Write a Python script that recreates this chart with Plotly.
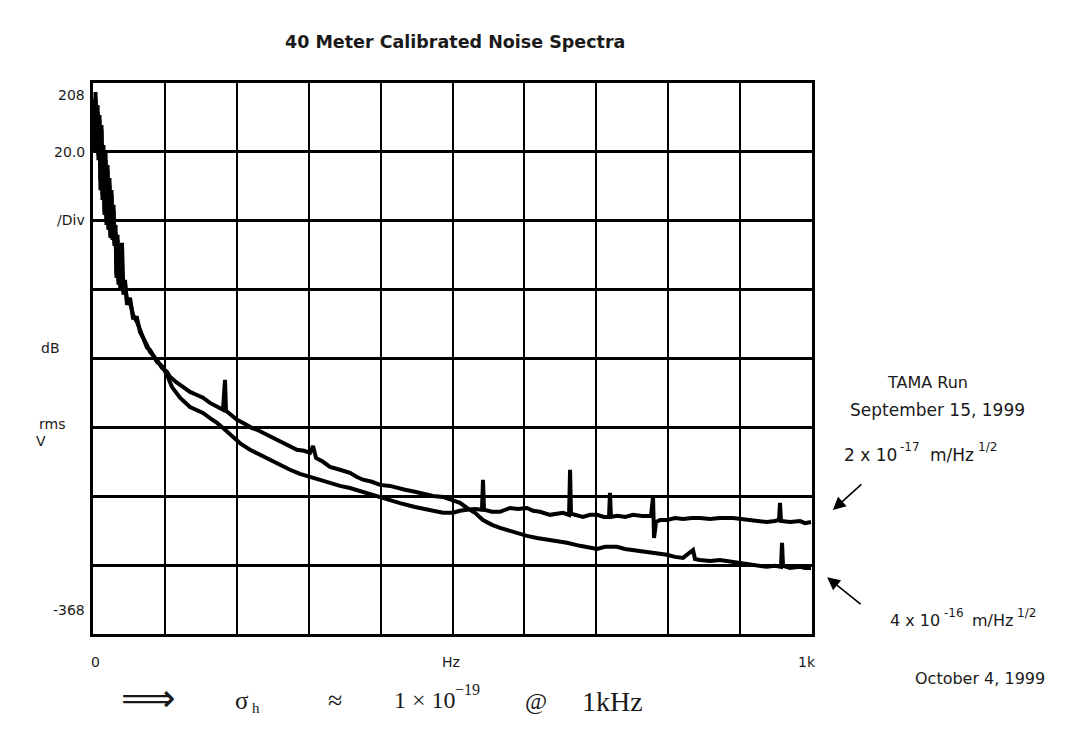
import plotly.graph_objects as go

# ---- data (frequency in Hz, level in dB; 20 dB per division, top of screen = 0 dB) ----
# Curve measured October 4, 1999 (ends at the lower level)
oct_hz = [0.7, 2.1, 3.5, 4.9, 6.3, 7.6, 9.0, 10.4, 11.8, 13.2, 14.6, 16.0, 17.4, 18.8, 20.2, 21.6,
          22.9, 24.3, 25.7, 27.1, 28.5, 29.9, 31.3, 32.7, 34.1, 35.5, 36.9, 38.2, 40.3, 42.4, 44.5,
          47.3, 51.5, 55.6, 61.2, 65.4, 75.1, 79.3, 89.0, 96.0, 102.9,
          107.1, 115.4, 125.2, 134.9, 144.6, 153.0, 162.7, 172.5, 180.8, 183.6, 185.0, 190.5, 200.3,
          211.4, 221.1, 228.1, 239.2, 247.6, 255.9, 267.0, 275.4, 283.7, 293.5, 301.8, 306.0, 310.2,
          319.9, 329.6, 343.5, 357.4, 367.2, 375.5, 388.0, 399.2, 413.1, 422.8, 434.0, 447.8, 461.7,
          472.9, 486.8, 500.7, 510.4, 520.2, 531.3, 542.4, 554.9, 566.1, 580.0, 591.1, 603.6, 617.5,
          635.6, 646.7, 659.2, 677.3, 701.0, 712.1, 728.8, 739.9, 751.0, 763.6, 774.7, 785.8, 798.3,
          809.5, 820.6, 834.5, 837.3, 844.2, 858.1, 872.0, 890.1, 902.6, 913.8, 924.9, 937.4, 948.5,
          956.9, 958.3, 959.7, 969.4, 983.3, 990.3, 998.6]
oct_db = [-4.9, -19.5, -2.6, -16.5, -6.4, -22.4, -9.3, -31.1, -12.2, -34.0, -18.0, -37.4, -19.5, -40.4,
          -23.8, -42.7, -27.6, -44.4, -31.1, -45.6, -35.4, -47.3, -41.2, -56.6, -44.1, -58.6, -50.8,
          -60.1, -46.4, -61.5, -57.2, -64.4, -62.4, -68.2, -68.2, -72.3, -76.1, -78.1, -80.4, -82.7,
          -83.9,
          -85.3, -86.8, -88.3, -89.7, -90.6, -91.4, -92.9, -94.1, -94.9, -86.2, -95.2, -96.1, -97.8,
          -99.0, -100.2, -100.7, -101.9, -102.5, -103.6, -104.8, -105.7, -106.5, -106.8, -107.4, -105.4,
          -108.9, -110.0, -111.5, -112.3, -113.2, -114.4, -115.2, -115.8, -116.7, -117.0, -117.6,
          -118.1, -118.7, -119.3, -119.9, -120.2, -121.1, -121.9, -123.4, -124.8, -126.9, -128.3,
          -129.2, -130.1, -130.6, -131.5, -132.1, -132.7, -133.2, -133.5, -134.4, -135.3, -134.7,
          -134.7, -135.3, -135.6, -136.1, -136.4, -136.7, -137.0, -137.6, -137.9, -135.6, -138.2,
          -138.5, -138.8, -138.5, -139.1, -139.3, -139.6, -140.2, -140.5, -140.2, -140.5, -133.5,
          -140.2, -140.8, -140.5, -140.8, -140.8]

# Curve from the TAMA run, September 15, 1999 (ends at the higher, flat level)
sep_hz = [0.7, 2.1, 3.5, 4.9, 6.3, 7.6, 9.0, 10.4, 11.8, 13.2, 14.6, 16.0, 17.4, 18.8, 20.2, 21.6,
          22.9, 24.3, 25.7, 27.1, 28.5, 29.9, 31.3, 32.7, 34.1, 35.5, 36.9, 38.2, 39.6, 42.4, 44.5,
          47.3, 51.5, 55.6, 61.2, 65.4, 75.1, 79.3, 89.0, 96.0, 102.9,
          109.9, 121.0, 134.9, 144.6, 153.0, 162.7, 172.5, 183.6, 194.7, 205.8, 218.4, 232.3, 246.2,
          260.1, 274.0, 287.9, 301.8, 315.7, 329.6, 343.5, 357.4, 378.3, 399.2, 413.1, 427.0, 447.8,
          472.9, 486.8, 500.7, 510.4, 520.2, 531.3, 541.0, 542.4, 543.8, 554.9, 566.1, 580.0, 591.1,
          603.6, 612.0, 621.7, 635.6, 645.4, 653.7, 662.1, 663.5, 664.8, 681.5, 691.3, 701.0, 710.7,
          717.7, 719.0, 720.4, 729.2, 740.3, 751.0, 763.6, 776.1, 778.9, 780.3, 783.1, 788.7, 798.3,
          809.5, 820.6, 833.1, 844.2, 858.1, 872.0, 890.1, 902.6, 913.8, 924.9, 937.4, 948.5, 954.1,
          955.5, 956.9, 969.4, 983.3, 990.3, 998.6]
sep_db = [-7.8, -18.0, -4.4, -15.1, -8.4, -20.9, -10.7, -28.2, -13.6, -32.5, -19.5, -38.3, -22.4, -41.2,
          -25.3, -42.1, -29.6, -45.0, -32.5, -45.0, -36.9, -46.7, -43.3, -55.7, -45.6, -57.8, -52.0,
          -59.5, -54.3, -60.7, -58.6, -63.0, -63.6, -67.3, -69.4, -71.7, -76.9, -77.5, -81.0, -82.2,
          -84.8,
          -88.3, -91.4, -94.1, -94.9, -95.8, -97.3, -98.7, -100.7, -102.8, -104.8, -106.5, -108.0,
          -109.4, -110.9, -112.3, -113.5, -114.4, -115.2, -116.1, -117.0, -117.6, -119.0, -120.2,
          -121.1, -122.0, -123.1, -124.2, -124.8, -124.8, -124.2, -123.9, -123.7, -123.9, -115.2,
          -123.9, -124.5, -124.5, -123.4, -123.7, -123.4, -124.2, -124.5, -125.4, -125.1, -124.8,
          -125.4, -112.3, -125.1, -126.0, -125.4, -125.4, -126.0, -126.0, -119.0, -126.0, -125.7,
          -126.0, -125.4, -125.7, -125.7, -120.2, -132.1, -127.5, -126.9, -126.9, -126.3, -126.6,
          -126.3, -126.3, -126.6, -126.3, -126.3, -126.6, -126.9, -127.2, -127.5, -127.2, -126.9,
          -121.9, -127.2, -127.5, -127.2, -127.8, -127.5]

# screen labels
left_labels = ["208", "20.0", "/Div", "-368"]
side_labels = ["dB", "rms", "V"]
x_labels = ["0", "Hz", "1k"]

fig = go.Figure()
fig.add_trace(go.Scatter(x=oct_hz, y=oct_db, mode="lines", name="October 4, 1999",
                         line=dict(color="black", width=4)))
fig.add_trace(go.Scatter(x=sep_hz, y=sep_db, mode="lines", name="September 15, 1999",
                         line=dict(color="black", width=4)))

sans = "DejaVu Sans, Arial, sans-serif"
serif = "Liberation Serif, Times New Roman, serif"
ann = []

def txt(t, x, y, xa="center", size=14, font=sans, color="#1a1a1a"):
    ann.append(dict(text=t, x=x, y=y, xref="paper", yref="paper", xanchor=xa, yanchor="middle",
                    showarrow=False, font=dict(family=font, size=size, color=color)))

txt("<b>40 Meter Calibrated Noise Spectra</b>", 0.503, 1.074, size=17.5)
for t, y in zip(left_labels, [0.978, 0.875, 0.751, 0.044]):
    txt(t, -0.008, y, xa="right", size=14)
for t, y, x in zip(side_labels, [0.519, 0.381, 0.350], [-0.075, -0.078, -0.082]):
    txt(t, x, y, xa="left", size=14)
for t, x in zip(x_labels, [0.003, 0.498, 0.993]):
    txt(t, x, -0.050, size=14)

txt("TAMA Run", 1.160, 0.456, size=16)
txt("September 15, 1999", 1.175, 0.407, size=17)

# "2 x 10^-17 m/Hz^1/2" (exponents as raised small text)
txt("2 x 10", 1.042, 0.325, xa="left", size=17)
txt("-17", 1.120, 0.339, xa="left", size=12)
txt("m/Hz", 1.162, 0.325, xa="left", size=17)
txt("1/2", 1.228, 0.339, xa="left", size=12)

# "4 x 10^-16 m/Hz^1/2"
txt("4 x 10", 1.106, 0.025, xa="left", size=16)
txt("-16", 1.181, 0.039, xa="left", size=12)
txt("m/Hz", 1.220, 0.025, xa="left", size=16)
txt("1/2", 1.283, 0.039, xa="left", size=12)

txt("October 4, 1999", 1.233, -0.080, size=16)

# bottom formula: sigma_h ~ 1 x 10^-19 @ 1kHz
txt("⟹", 0.077, -0.117, size=38, font=serif)
txt("σ", 0.207, -0.120, size=25, font=serif)
txt("h", 0.218, -0.134, xa="left", size=15, font=serif)
txt("≈", 0.337, -0.120, size=26, font=serif)
txt("1 × 10", 0.416, -0.120, xa="left", size=24, font=serif)
txt("−19", 0.500, -0.100, xa="left", size=16, font=serif)
txt("@", 0.616, -0.122, size=24, font=serif)
txt("1kHz", 0.722, -0.122, size=28, font=serif)

# arrows
ann.append(dict(x=1.029, y=0.225, xref="paper", yref="paper", ax=30, ay=-27, showarrow=True,
                arrowhead=2, arrowsize=1.6, arrowwidth=1.6, arrowcolor="black", text=""))
ann.append(dict(x=1.021, y=0.103, xref="paper", yref="paper", ax=35, ay=28, showarrow=True,
                arrowhead=2, arrowsize=1.6, arrowwidth=1.6, arrowcolor="black", text=""))

fig.update_layout(
    width=1069, height=732,
    margin=dict(l=93, r=257, t=83, b=98),
    paper_bgcolor="white", plot_bgcolor="white",
    showlegend=False,
    annotations=ann,
    xaxis=dict(range=[0, 1000], dtick=100, tick0=0, showgrid=True, gridcolor="black", gridwidth=1.8,
               showline=True, linecolor="black", linewidth=3, mirror=True, showticklabels=False,
               ticks="", zeroline=False, fixedrange=True),
    yaxis=dict(range=[-160, 0], dtick=20, tick0=0, showgrid=True, gridcolor="black", gridwidth=2.6,
               showline=True, linecolor="black", linewidth=3, mirror=True, showticklabels=False,
               ticks="", zeroline=False, fixedrange=True),
)

fig.write_html("out.html", config={"displayModeBar": False},
               post_script="document.body.style.margin='0';document.body.style.overflow='hidden';")
